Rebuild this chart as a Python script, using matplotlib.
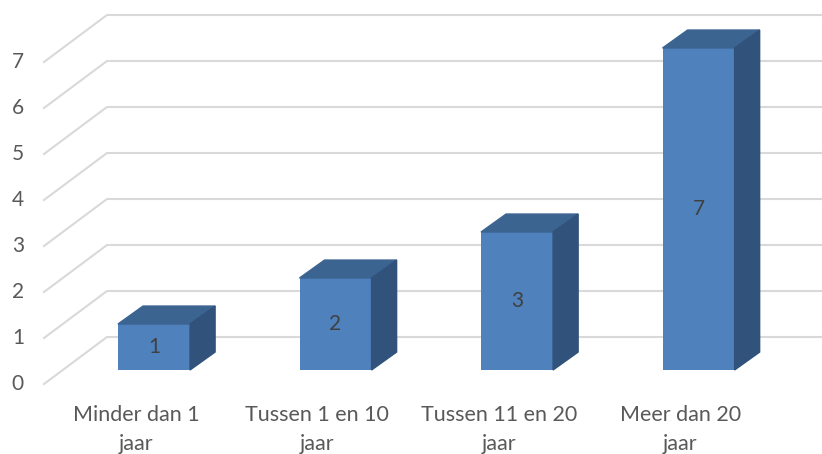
import matplotlib.pyplot as plt
from matplotlib.patches import Polygon

categories = ["Minder dan 1\njaar", "Tussen 1 en 10\njaar", "Tussen 11 en 20\njaar", "Meer dan 20\njaar"]
values = [1, 2, 3, 7]
yticks = [0, 1, 2, 3, 4, 5, 6, 7]

front = "#4f81bd"
top = "#3c6491"
side = "#30527b"
grid = "#d9d9d9"

plt.rcParams['font.family'] = ['Lato', 'DejaVu Sans']

fig = plt.figure(figsize=(8.22, 4.54), dpi=100)
ax = fig.add_axes([0, 0, 1, 1])
ax.set_xlim(-0.8485, 3.680)
ax.set_ylim(-1.826, 8.043)
ax.axis("off")

# depth offsets (data units)
bdx, bdy = 0.138, 0.39      # bar depth
wx0, wx1 = -0.606, -0.259   # diagonal grid line ends
wlo, whi = -0.304, 0.717    # front/back y offsets of grid

for v in yticks:
    ax.plot([wx0, wx1, 3.7], [v + wlo, v + whi, v + whi], color=grid, lw=1.5,
            zorder=1, solid_joinstyle="miter")
    ax.text(-0.75, v + wlo, str(v), ha="center", va="center", fontsize=15,
            color="#595959")

x = list(range(len(values)))
w = 0.397
ax.bar(x, values, width=w, color=front, zorder=3)
for i, v in zip(x, values):
    l, r = i - w / 2, i + w / 2
    ax.add_patch(Polygon([(l, v), (r, v), (r + bdx, v + bdy), (l + bdx, v + bdy)],
                         closed=True, color=top, zorder=3))
    ax.add_patch(Polygon([(r, 0), (r, v), (r + bdx, v + bdy), (r + bdx, bdy)],
                         closed=True, color=side, zorder=3))
    ax.text(i, v / 2, str(v), ha="center", va="center", fontsize=15,
            color="#404040", zorder=4)

for i, c in enumerate(categories):
    ax.text(i - 0.1, -0.76, c, ha="center", va="top", fontsize=15.5,
            color="#595959", linespacing=1.55)

fig.savefig("out.png", dpi=100)
